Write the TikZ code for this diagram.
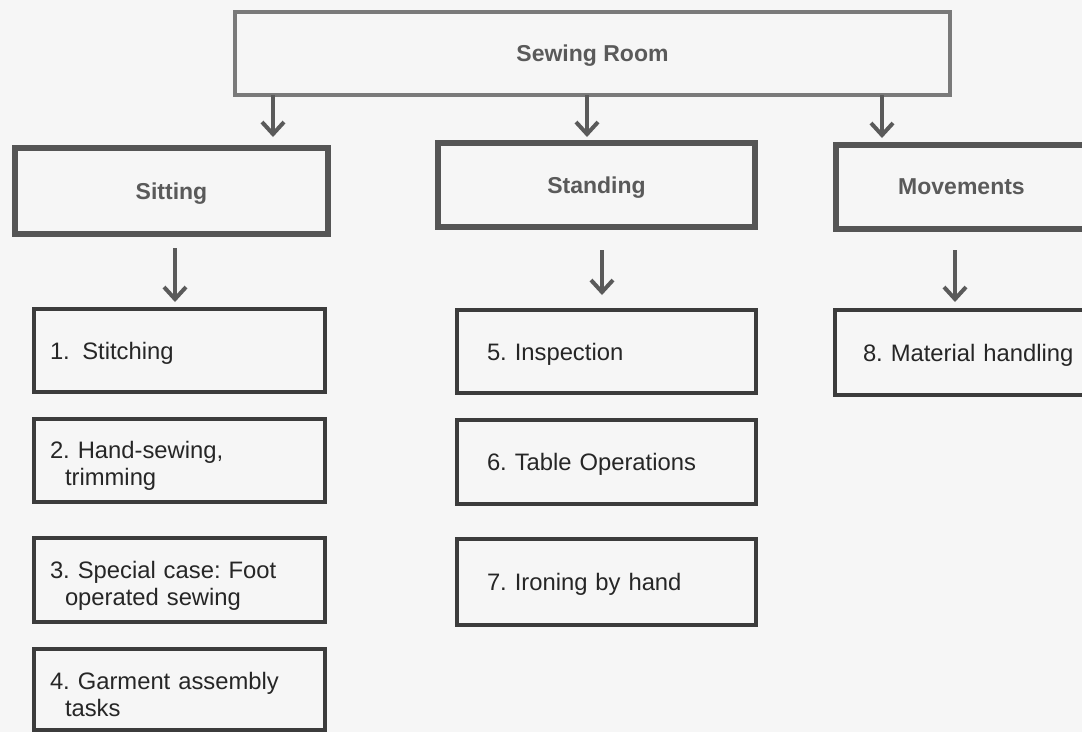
\documentclass[tikz,border=0pt]{standalone}
\usepackage{fontspec}
\setmainfont{Liberation Sans}
\usetikzlibrary{arrows.meta}
\definecolor{bgc}{HTML}{F6F6F6}
\definecolor{topc}{HTML}{7A7A7A}
\definecolor{midc}{HTML}{555555}
\definecolor{listc}{HTML}{3C3C3C}
\definecolor{headc}{HTML}{5A5A5A}
\definecolor{listtxt}{HTML}{262626}
\definecolor{arrc}{HTML}{5A5A5A}
\newcommand\hdfont{\frenchspacing\bfseries\fontsize{23}{27}\selectfont}
\newcommand\lstfont{\frenchspacing\fontsize{23.8}{27}\selectfont}
\newcommand\highstrut{\rule{0pt}{28pt}}
\begin{document}
\begin{tikzpicture}[x=1pt,y=-1pt,
  topbox/.style={draw=topc, line width=4pt, inner sep=0pt, outer sep=0pt,
    minimum width=715pt, minimum height=83pt, font=\hdfont, text=headc,
    text depth=0pt},
  midbox/.style={draw=midc, line width=6.5pt, inner sep=0pt, outer sep=0pt,
    font=\hdfont, text=headc, text depth=0pt},
  lboxbase/.style={draw=listc, line width=4pt, inner xsep=16pt, inner ysep=0pt,
    outer sep=0pt, align=left, font=\lstfont, text=listtxt},
  lbox/.style={lboxbase, text depth=0pt},
  mlbox/.style={lboxbase},
  arr/.style={draw=arrc, line width=3.5pt,
    -{Straight Barb[length=12pt,width=22pt,line width=4pt]}}]
\fill[bgc] (0,0) rectangle (1082,732);
\useasboundingbox (0,0) rectangle (1082,732);

% top level
\node[topbox] (top) at (592.5,53.5) {Sewing Room};

% second level
\node[midbox, minimum width=313pt, minimum height=86pt] (sit) at (171.5,191) {Sitting};
\node[midbox, minimum width=317pt, minimum height=84pt] (std) at (596.5,185) {Standing};
\node[midbox, minimum width=251pt, minimum height=84pt] (mov) at (961.5,187) {Movements};

% sitting list
\node[lbox, text width=259pt, minimum height=83pt] (b1) at (179.5,350.5) {1.\hspace{12.5pt}Stitching};
\node[mlbox, text width=259pt, minimum height=83pt] (b2) at (179.5,460.5) {\highstrut2. Hand-sewing,\\\hspace*{15pt}trimming};
\node[mlbox, text width=259pt, minimum height=84pt] (b3) at (179.5,580) {\highstrut3. Special case: Foot\\\hspace*{15pt}operated sewing};
\node[mlbox, text width=259pt, minimum height=81pt] (b4) at (179.5,689.5) {\highstrut4. Garment assembly\\\hspace*{15pt}tasks};

% standing list
\node[lbox, inner xsep=30pt, text width=239pt, minimum height=83pt] (b5) at (606.5,351.5) {5. Inspection};
\node[lbox, inner xsep=30pt, text width=239pt, minimum height=84pt] (b6) at (606.5,462) {6. Table Operations};
\node[lbox, inner xsep=30pt, text width=239pt, minimum height=86pt] (b7) at (606.5,582) {7. Ironing by hand};

% movements list
\node[lbox, inner xsep=28pt, text width=224pt, minimum height=85pt] (b8) at (975,352.5) {8. Material handling};

% arrow positions
\coordinate (ax1) at (273,0);
\coordinate (ax2) at (587,0);
\coordinate (ax3) at (882,0);
\coordinate (ax4) at (175,0);
\coordinate (ax5) at (602,0);
\coordinate (ax6) at (955,0);

\draw[arr, shorten >=11pt] (top.south -| ax1) -- (sit.north -| ax1);
\draw[arr, shorten >=6pt] (top.south -| ax2) -- (std.north -| ax2);
\draw[arr, shorten >=7pt] (top.south -| ax3) -- (mov.north -| ax3);
\draw[arr, shorten <=14pt, shorten >=7pt] (sit.south -| ax4) -- (b1.north -| ax4);
\draw[arr, shorten <=23pt, shorten >=15pt] (std.south -| ax5) -- (b5.north -| ax5);
\draw[arr, shorten <=21pt, shorten >=8pt] (mov.south -| ax6) -- (b8.north -| ax6);
\end{tikzpicture}
\end{document}
